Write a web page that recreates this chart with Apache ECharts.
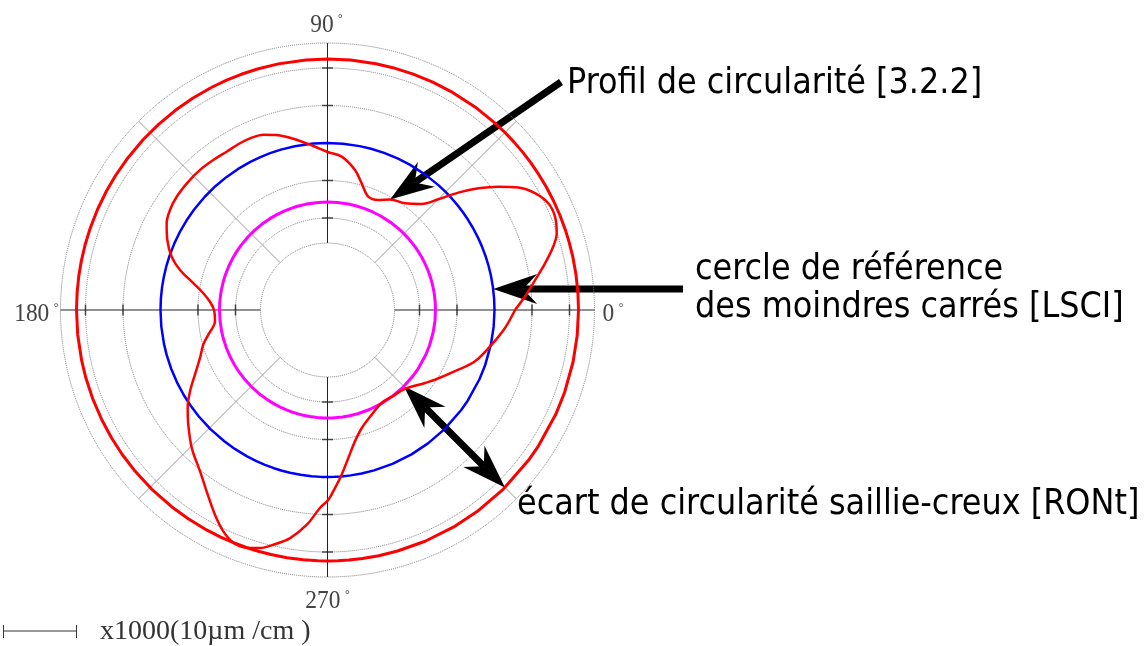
<!DOCTYPE html>
<html>
<head>
<meta charset="utf-8">
<script src="https://cdn.jsdelivr.net/npm/echarts@6.0.0/dist/echarts.min.js"></script>
<style>
  html, body { margin: 0; padding: 0; background: #fff; }
  #chart { width: 1144px; height: 646px; }
</style>
</head>
<body>
<div id="chart"></div>
<script>
// angle in degrees (0 = right, counter-clockwise)
const profileAngles = [0, 3.9, 8.2, 12.1, 15.7, 18.5, 22.3, 25.8, 29.4, 32.7,
  35.8, 38.9, 41.9, 45, 48.4, 54, 60.5, 65.2, 70.2, 74.9,
  78.9, 84.7, 90, 94.9, 101.3, 106.2, 110.1, 113.7, 117.7, 122.5,
  127.3, 132.3, 137.3, 143.1, 147.6, 151.7, 156.4, 161.1, 164.8, 168.7,
  172.3, 176, 180, 185.7, 191.7, 195.6, 200.6, 206, 210.6, 215,
  219.5, 225.5, 231.7, 236.3, 241.2, 244.8, 248, 251.3, 254.2, 257,
  260.7, 264.5, 267.8, 270.2, 272.4, 274.9, 278, 281.8, 286.2, 292.9,
  300.2, 307, 314.5, 323.2, 327, 335.5, 340.8, 348.1, 354.2, 360];
// radial deviation from the least squares circle (plot units)
const profileDev = [20.5, 30.9, 42.7, 55.5, 67.5, 74.7, 78.9, 78.2, 71.1, 59.8,
  43.7, 26.8, 8.7, -10.4, -25.2, -35.1, -39.9, -45.8, -46.6, -35.8,
  -24.3, -13, -9, -2.4, 7.7, 15.2, 19.7, 21.2, 21.3, 20.7,
  21.5, 22.4, 22.3, 21.6, 19.6, 15.7, 7.8, -2.3, -14.2, -30.2,
  -41.7, -49.2, -53.5, -53.9, -45.3, -38, -30.8, -19.5, -7.3, 3.7,
  13.4, 26.6, 38.6, 50.9, 66.6, 77.6, 84, 84, 80.4, 73.9,
  64.1, 48.7, 31.1, 23, 11.2, -1.7, -17.5, -32.8, -44.1, -53.4,
  -59.4, -59, -56.3, -45.2, -38.9, -23.2, -10.8, 0.8, 11.4, 20.5];

const lscDev = 0;     // cercle LSCI
const minDev = -59;   // cercle inscrit (creux)
const maxDev = 84;    // cercle circonscrit (saillie)

const gridValues = [-75, -37.5, 0, 37.5, 75];
const tickValues = [-75, -37.5, 37.5, 75];
const axisAngles = [0, 90, 180, 270];

const chart = echarts.init(document.getElementById("chart"));

const circle = (dev) => profileAngles.map((a) => [dev, a]);
const profile = profileAngles.map((a, i) => [profileDev[i], a]);
const ticks = [];
axisAngles.forEach((a) => tickValues.forEach((v) => ticks.push([v, a])));

const serif = "Liberation Serif";
const sans = "DejaVu Sans Condensed";

chart.setOption({
  animation: false,
  polar: { center: [327.5, 310], radius: [67, 267] },
  angleAxis: {
    type: "value",
    min: 0,
    max: 360,
    interval: 45,
    startAngle: 0,
    clockwise: false,
    axisLine: { show: true, lineStyle: { color: "#777", type: "dotted", width: 1 } },
    axisTick: { show: false },
    axisLabel: { show: false },
    splitLine: { show: true, lineStyle: { color: ["#222", "#999"], width: 1 } },
  },
  radiusAxis: {
    type: "value",
    min: -100,
    max: 100,
    axisLine: { show: false },
    axisTick: { show: false, customValues: gridValues },
    axisLabel: { show: false },
    splitLine: { show: true, lineStyle: { color: "#777", type: "dotted", width: 1 } },
  },
  series: [
    {
      type: "scatter",
      coordinateSystem: "polar",
      data: ticks,
      symbol: "rect",
      symbolSize: (val) => (val[1] % 180 === 0 ? [1.5, 11] : [11, 1.5]),
      itemStyle: { color: "#222" },
      silent: true,
    },
    {
      type: "line",
      coordinateSystem: "polar",
      data: circle(maxDev),
      showSymbol: false,
      lineStyle: { color: "#ff0000", width: 3 },
    },
    {
      type: "line",
      coordinateSystem: "polar",
      data: circle(lscDev),
      showSymbol: false,
      lineStyle: { color: "#0000ff", width: 2.5 },
    },
    {
      type: "line",
      coordinateSystem: "polar",
      data: circle(minDev),
      showSymbol: false,
      lineStyle: { color: "#ff00ff", width: 3 },
    },
    {
      type: "line",
      coordinateSystem: "polar",
      data: profile,
      smooth: 0.35,
      showSymbol: false,
      lineStyle: { color: "#ff0000", width: 2.5 },
    },
  ],
});

// annotations: arrow tips sit on the drawn data
function arrow(tail, tip, bothEnds) {
  const dx = tail[0] - tip[0], dy = tail[1] - tip[1];
  const l = Math.hypot(dx, dy);
  const ux = dx / l, uy = dy / l;
  const head = (p, sx, sy) => {
    const nx = -sy, ny = sx;
    return {
      type: "polygon",
      shape: { points: [
        p,
        [p[0] + sx * 44 + nx * 15, p[1] + sy * 44 + ny * 15],
        [p[0] + sx * 30, p[1] + sy * 30],
        [p[0] + sx * 44 - nx * 15, p[1] + sy * 44 - ny * 15],
      ] },
      style: { fill: "#000" },
    };
  };
  const a = [tip[0] + ux * 30, tip[1] + uy * 30];
  const b = bothEnds ? [tail[0] - ux * 30, tail[1] - uy * 30] : tail;
  const out = [
    { type: "line", shape: { x1: a[0], y1: a[1], x2: b[0], y2: b[1] }, style: { stroke: "#000", lineWidth: 7 } },
    head(tip, ux, uy),
  ];
  if (bothEnds) out.push(head(tail, -ux, -uy));
  return out;
}

const px = (v) => chart.convertToPixel({ seriesIndex: 4 }, v);
const profTip = px([profileDev[16], profileAngles[16]]);
const lscTip = px([lscDev, 7.2]);
const minTip = px([minDev, 315]);
const maxTip = px([maxDev, 315]);

const label = (text, x, y) => ({
  type: "text", x, y,
  style: { text, font: '35.5px "' + sans + '"', fill: "#000", verticalAlign: "middle" },
});

// angle labels, placed just outside the outer ring
const angleRich = {
  n: { fontFamily: serif, fontSize: 26, fill: "#444" },
  d: { fontFamily: serif, fontSize: 13, fill: "#444", verticalAlign: "top", padding: [0, 0, 0, 5] },
};
const angleLabel = (deg, dx, dy, align, valign) => {
  const p = px([100, deg]);
  return {
    type: "text", x: p[0] + dx, y: p[1] + dy, scaleX: 0.9,
    style: { text: "{n|" + deg + "}{d|°}", rich: angleRich, align, verticalAlign: valign },
  };
};

chart.setOption({
  graphic: [
    ...arrow([561, 82], profTip),
    ...arrow([683, lscTip[1]], lscTip),
    ...arrow(maxTip, minTip, true),
    label("Profil de circularité [3.2.2]", 567, 84),
    label("cercle de référence", 695, 270),
    label("des moindres carrés [LSCI]", 695, 308),
    label("écart de circularité saillie-creux [RONt]", 517, 505),
    angleLabel(0, 8, 4, "left", "middle"),
    angleLabel(90, -1, -18, "center", "middle"),
    angleLabel(180, -2, 4, "right", "middle"),
    angleLabel(270, 0, 24, "center", "middle"),
    { type: "line", shape: { x1: 3, y1: 631, x2: 77, y2: 631 }, style: { stroke: "#333", lineWidth: 1 } },
    { type: "line", shape: { x1: 3.5, y1: 625, x2: 3.5, y2: 638 }, style: { stroke: "#333", lineWidth: 1 } },
    { type: "line", shape: { x1: 76.5, y1: 625, x2: 76.5, y2: 638 }, style: { stroke: "#333", lineWidth: 1 } },
    {
      type: "text", x: 100, y: 632,
      style: { text: "x1000(10µm /cm )", font: '28px "' + serif + '"', fill: "#333", verticalAlign: "middle" },
    },
  ],
});
</script>
</body>
</html>
